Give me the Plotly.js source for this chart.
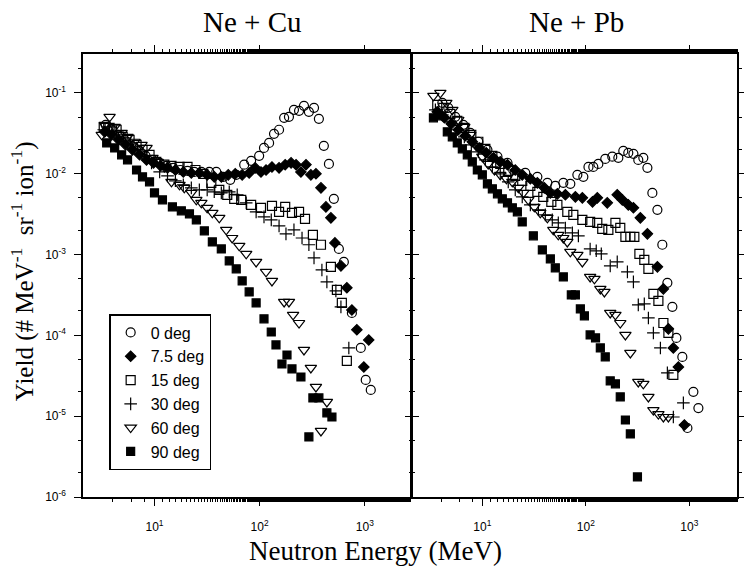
<!DOCTYPE html>
<html>
<head>
<meta charset="utf-8">
<script src="https://cdn.plot.ly/plotly-3.0.1.min.js"></script>
<style>html,body{margin:0;padding:0;background:#fff;}#chart{width:744px;height:566px;}</style>
</head>
<body>
<div id="chart"></div>
<script>
// ---------- Data: neutron energy (MeV) and yield (# MeV^-1 sr^-1 ion^-1) ----------
const angleLabels = ["0 deg", "7.5 deg", "15 deg", "30 deg", "60 deg", "90 deg"];
const xTickVals = [10, 100, 1000];
const xTickText = ["10<sup>1</sup>", "10<sup>2</sup>", "10<sup>3</sup>"];
const yTickVals = [1e-6, 1e-5, 1e-4, 1e-3, 1e-2, 1e-1];
const yTickText = ["10<sup>-6</sup>", "10<sup>-5</sup>", "10<sup>-4</sup>", "10<sup>-3</sup>", "10<sup>-2</sup>", "10<sup>-1</sup>"];

// Ne + Cu
const cu0E = [3.43,3.91,4.46,5.20,6.05,7.05,8.22,9.57,11.2,13.0,15.1,17.6,20.6,23.9,27.9,33.2,38.7,45.1,52.5,59.9,71.3,83.0,98.9,110,123,137,153,171,190,212,237,264,294,329,366,408,456,508,567,632,754,916,1021,1140];
const cu0Y = [0.0402,0.0349,0.0302,0.0262,0.0221,0.0191,0.0166,0.0148,0.0136,0.0125,0.0118,0.0111,0.0108,0.0105,0.0105,0.0105,0.0105,0.00913,0.00838,0.00966,0.0129,0.0144,0.0166,0.0208,0.0240,0.0311,0.0349,0.0491,0.0505,0.0616,0.0598,0.0690,0.0582,0.0652,0.0477,0.0221,0.0132,0.00488,0.00117,8.09e-4,1.89e-4,6.98e-5,2.81e-5,2.11e-5];
const cu7E = [3.36,3.91,4.56,5.31,6.18,7.21,8.40,9.79,11.4,13.3,15.8,18.8,22.4,26.7,31.7,37.0,43.2,50.3,58.6,68.2,79.5,90.6,103,115,131,153,175,199,222,247,276,307,343,383,427,476,520,593,675,754,840,979,1091];
const cu7Y = [0.0329,0.0302,0.0262,0.0227,0.0197,0.0171,0.0148,0.0136,0.0125,0.0118,0.0111,0.0105,0.0102,0.0102,0.00966,0.00913,0.00913,0.00966,0.00995,0.00966,0.0102,0.0118,0.0105,0.0111,0.0121,0.0118,0.0129,0.0136,0.0129,0.0105,0.0129,0.00966,0.00995,0.00667,0.00388,0.00284,0.00139,7.23e-4,3.87e-4,2.06e-4,1.17e-4,4.06e-5,8.77e-5];
const cu15E = [3.29,3.74,4.36,4.98,5.79,6.75,7.69,8.97,10.4,12.4,14.5,17.3,20.6,24.5,29.1,34.7,41.3,49.2,57.3,66.8,83.0,103,131,153,175,203,237,270,321,383,476,543,605,675];
const cu15Y = [0.0369,0.0369,0.0349,0.0285,0.0262,0.0227,0.0197,0.0171,0.0140,0.0129,0.0125,0.0121,0.0121,0.0111,0.00995,0.00769,0.00630,0.00547,0.00488,0.00474,0.00411,0.00378,0.00399,0.00337,0.00388,0.00327,0.00337,0.00276,0.00175,0.00132,7.03e-4,3.65e-4,2.52e-4,4.82e-5];
const cu30E = [3.29,3.74,4.36,5.08,5.93,6.90,8.04,9.37,11.2,13.3,15.8,18.8,22.4,26.7,31.7,37.0,43.2,51.4,61.2,74.5,92.6,110,129,153,178,212,253,294,329,391,436,531,593,705];
const cu30Y = [0.0349,0.0379,0.0329,0.0277,0.0240,0.0197,0.0162,0.0136,0.0105,0.00939,0.00815,0.00726,0.00667,0.00630,0.00630,0.00596,0.00578,0.00596,0.00547,0.00435,0.00337,0.00292,0.00268,0.00226,0.00180,0.00202,0.00160,0.00132,9.08e-4,6.44e-4,4.58e-4,3.55e-4,2.25e-4,6.98e-5];
const cu60E = [3.15,3.36,3.74,4.18,4.87,5.54,6.46,7.53,8.40,9.57,10.7,12.4,14.5,17.3,19.2,22.4,25.0,27.9,31.7,35.5,41.3,48.1,54.8,64.0,74.5,92.6,115,131,171,190,208,237,264,307,343,436,383];
const cu60Y = [0.0302,0.0402,0.0505,0.0379,0.0320,0.0285,0.0248,0.0227,0.0208,0.0157,0.0140,0.0121,0.00792,0.00726,0.00667,0.00578,0.00474,0.00435,0.00378,0.00327,0.00284,0.00202,0.00160,0.00128,0.00102,8.09e-4,6.09e-4,4.71e-4,2.59e-4,2.59e-4,1.79e-4,1.42e-4,6.59e-5,3.95e-5,2.30e-5,1.50e-5,6.56e-6];
const cu90E = [3.51,4.18,4.87,5.54,6.75,7.69,8.97,10.0,11.9,14.8,18.0,21.5,25.0,29.8,35.5,43.2,51.4,59.9,68.2,79.5,92.6,110,129,143,182,163,203,247,321,366,436,487,294];
const cu90Y = [0.0240,0.0208,0.0171,0.0148,0.0111,0.00913,0.00792,0.00578,0.00474,0.00388,0.00347,0.00318,0.00268,0.00196,0.00143,0.00117,8.33e-4,6.64e-4,4.71e-4,3.44e-4,2.52e-4,1.60e-4,1.10e-4,7.60e-5,5.71e-5,4.42e-5,3.84e-5,3.05e-5,1.68e-5,1.68e-5,1.10e-5,9.77e-6,5.53e-6];

// Ne + Pb
const pb0E = [4.11,4.69,5.48,6.55,7.65,9.15,11.2,14.0,17.5,19.9,26.0,34.0,42.5,50.7,60.6,70.8,82.8,94.6,106,118,132,154,180,206,230,257,288,321,359,393,439,491,548,613,685,749,855,957,1093,1222];
const pb0Y = [0.0752,0.0652,0.0505,0.0402,0.0320,0.0248,0.0197,0.0162,0.0136,0.0111,0.0102,0.00913,0.00769,0.00706,0.00769,0.00748,0.00966,0.00913,0.0121,0.0121,0.0132,0.0152,0.0162,0.0157,0.0191,0.0181,0.0176,0.0148,0.0157,0.0118,0.00578,0.00357,0.00132,4.46e-4,2.25e-4,9.29e-5,5.41e-5,7.14e-6,2.00e-5,1.26e-5];
const pb7E = [3.67,4.30,5.01,5.86,6.85,8.00,9.35,10.9,12.8,14.9,17.5,20.8,24.3,29.1,34.0,39.7,45.4,53.1,63.4,79.2,92.5,116,129,161,201,225,257,288,336,393,491,561,627,700,783,895];
const pb7Y = [0.0582,0.0491,0.0413,0.0349,0.0294,0.0248,0.0208,0.0181,0.0157,0.0140,0.0129,0.0111,0.00966,0.00863,0.00769,0.00667,0.00578,0.00562,0.00547,0.00516,0.00502,0.00448,0.00502,0.00435,0.00547,0.00474,0.00411,0.00378,0.00284,0.00180,7.03e-4,3.75e-4,1.20e-4,6.98e-5,4.06e-5,7.78e-6];
const pb15E = [3.67,4.20,4.91,5.73,6.70,7.83,9.15,10.7,12.5,14.9,17.8,20.8,24.3,29.1,34.0,38.8,46.4,53.1,66.2,75.7,92.5,110,129,144,165,193,215,241,269,294,329,367,402,449,502,561,627,700];
const pb15Y = [0.0710,0.0652,0.0549,0.0450,0.0369,0.0302,0.0248,0.0203,0.0166,0.0132,0.0108,0.00939,0.00815,0.00706,0.00596,0.00516,0.00448,0.00411,0.00337,0.00309,0.00268,0.00253,0.00246,0.00207,0.00202,0.00246,0.00213,0.00165,0.00165,0.00165,0.00102,8.57e-4,6.64e-4,3.25e-4,2.67e-4,1.42e-4,1.07e-4,3.24e-5];
const pb30E = [3.52,4.11,4.91,5.73,6.70,7.83,9.15,10.7,12.5,14.9,17.8,20.8,24.3,29.1,34.8,40.6,47.4,54.2,63.4,74.1,84.7,110,126,141,172,201,252,288,321,367,402,449,525,613,700,875];
const pb30Y = [0.0616,0.0534,0.0438,0.0349,0.0285,0.0227,0.0186,0.0148,0.0121,0.00995,0.00792,0.00630,0.00516,0.00411,0.00357,0.00309,0.00268,0.00246,0.00213,0.00185,0.00170,0.00117,0.00111,0.00102,7.23e-4,8.09e-4,6.09e-4,4.58e-4,2.38e-4,2.45e-4,1.64e-4,1.07e-4,6.98e-5,3.43e-5,9.77e-6,1.46e-5];
const pb60E = [3.37,3.93,4.49,5.13,5.86,6.70,7.65,8.75,10.0,11.4,13.1,14.9,17.1,19.5,22.3,24.9,27.8,31.8,36.3,42.5,48.5,54.2,60.6,66.2,70.8,82.8,92.5,110,121,138,151,172,193,215,241,269,321,359,402,449,502,561,627];
const pb60Y = [0.0918,0.1,0.0752,0.0616,0.0464,0.0379,0.0302,0.0221,0.0162,0.0132,0.0111,0.00966,0.00863,0.00792,0.00667,0.00578,0.00474,0.00388,0.00327,0.00284,0.00202,0.00175,0.00160,0.00143,0.00108,9.89e-4,8.09e-4,5.28e-4,4.99e-4,3.75e-4,3.44e-4,1.89e-4,1.79e-4,1.42e-4,1.01e-4,6.05e-5,2.65e-5,2.51e-5,1.73e-5,1.19e-5,1.06e-5,9.77e-6,9.77e-6];
const pb90E = [3.37,3.93,4.59,5.13,5.73,6.41,7.16,8.00,8.95,10.0,11.2,12.5,14.0,15.6,17.5,19.5,21.8,24.3,31.1,38.0,45.4,50.7,60.6,72.4,79.2,88.5,96.8,110,124,138,154,172,193,215,241,269,315];
const pb90Y = [0.0491,0.0519,0.0329,0.0285,0.0240,0.0203,0.0171,0.0140,0.0111,0.00966,0.00748,0.00649,0.00562,0.00488,0.00435,0.00378,0.00337,0.00253,0.00170,0.00114,8.82e-4,6.83e-4,5.28e-4,3.16e-4,3.16e-4,2.12e-4,1.74e-4,1.01e-4,9.29e-5,6.98e-5,5.41e-5,2.73e-5,2.51e-5,1.73e-5,8.97e-6,6.03e-6,1.77e-6];

// ---------- Styles ----------
const symbols = ["circle-open", "diamond", "square-open", "cross-thin-open", "triangle-down-open", "square"];
const sizes = [9, 8, 9, 9, 10, 8];

const cuSets = [[cu0E,cu0Y],[cu7E,cu7Y],[cu15E,cu15Y],[cu30E,cu30Y],[cu60E,cu60Y],[cu90E,cu90Y]];
const pbSets = [[pb0E,pb0Y],[pb7E,pb7Y],[pb15E,pb15Y],[pb30E,pb30Y],[pb60E,pb60Y],[pb90E,pb90Y]];

function mk(set, i, xa, ya, show) {
  return {
    type: "scatter", mode: "markers",
    x: set[0], y: set[1], xaxis: xa, yaxis: ya,
    name: angleLabels[i], showlegend: show, legendgroup: "g" + i,
    marker: {symbol: symbols[i], size: sizes[i], color: "#000",
             line: {color: "#000", width: 1.2}},
    hoverinfo: "x+y+name"
  };
}
const traces = [];
cuSets.forEach((s, i) => traces.push(mk(s, i, "x", "y", true)));
pbSets.forEach((s, i) => traces.push(mk(s, i, "x2", "y2", false)));

const tickFont = {family: "Liberation Sans, Arial, sans-serif", size: 12, color: "#000"};
const serif = "Liberation Serif, Times New Roman, serif";
const minorLog = {ticks: "outside", ticklen: 3, tickcolor: "#000", tickwidth: 1, showgrid: false};

const xBase = {
  type: "log", range: [0.32, 3.43], tickmode: "array", tickvals: xTickVals, ticktext: xTickText,
  showline: true, linecolor: "#000", linewidth: 1.6, mirror: "ticks",
  ticks: "outside", ticklen: 7, tickwidth: 1, tickcolor: "#000",
  minor: minorLog, showgrid: false, zeroline: false,
  tickfont: tickFont, ticklabelstandoff: 11
};
const yBase = {
  type: "log", range: [-6, -0.52], tickmode: "array", tickvals: yTickVals, ticktext: yTickText,
  showline: true, linecolor: "#000", linewidth: 1.6, mirror: "ticks",
  ticks: "outside", ticklen: 7, tickwidth: 1, tickcolor: "#000",
  minor: minorLog, showgrid: false, zeroline: false,
  tickfont: tickFont, ticklabelstandoff: 6
};

const layout = {
  width: 744, height: 566,
  margin: {l: 83, r: 7, t: 54, b: 69},
  paper_bgcolor: "#fff", plot_bgcolor: "#fff",
  showlegend: true,
  xaxis: Object.assign({}, xBase, {domain: [0, 0.5], anchor: "y"}),
  xaxis2: Object.assign({}, xBase, {domain: [0.505, 1], anchor: "y2", range: [0.333, 3.46]}),
  yaxis: Object.assign({}, yBase, {domain: [0, 1], anchor: "x"}),
  yaxis2: Object.assign({}, yBase, {domain: [0, 1], anchor: "x2", showticklabels: false}),
  legend: {
    x: 0.04, y: 0.413, xanchor: "left", yanchor: "top",
    bgcolor: "#fff", bordercolor: "#000", borderwidth: 1.5,
    font: {family: "Liberation Sans, Arial, sans-serif", size: 16, color: "#000"},
    itemwidth: 30, tracegroupgap: 0
  },
  annotations: [
    {text: "Ne + Cu", xref: "paper", yref: "paper", x: 0.259, y: 1.072, xanchor: "center", yanchor: "middle",
     showarrow: false, font: {family: serif, size: 29, color: "#000"}},
    {text: "Ne + Pb", xref: "paper", yref: "paper", x: 0.755, y: 1.072, xanchor: "center", yanchor: "middle",
     showarrow: false, font: {family: serif, size: 29, color: "#000"}},
    {text: "Neutron Energy (MeV)", xref: "paper", yref: "paper", x: 0.448, y: -0.122, xanchor: "center", yanchor: "middle",
     showarrow: false, font: {family: serif, size: 27, color: "#000"}},
    {text: "Yield (# MeV<sup>-1</sup>  sr<sup>-1</sup> ion<sup>-1</sup>)", xref: "paper", yref: "paper",
     x: -0.093, y: 0.51, xanchor: "center", yanchor: "middle", textangle: -90,
     showarrow: false, font: {family: serif, size: 25, color: "#000"}}
  ]
};

Plotly.newPlot("chart", traces, layout, {displayModeBar: false, staticPlot: true});
</script>
</body>
</html>
